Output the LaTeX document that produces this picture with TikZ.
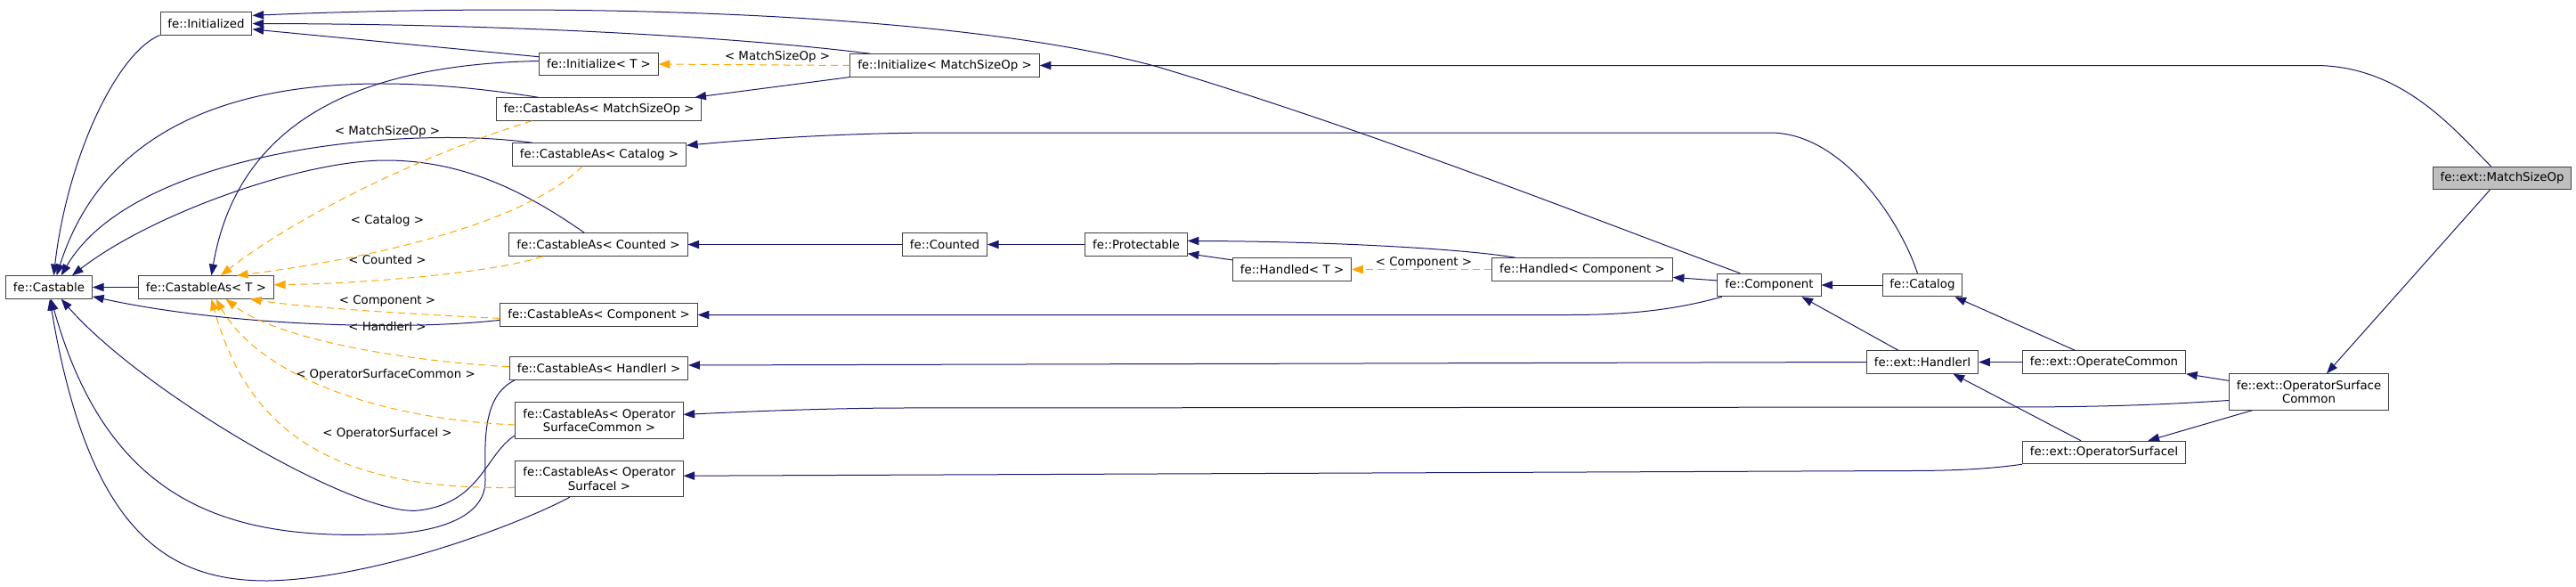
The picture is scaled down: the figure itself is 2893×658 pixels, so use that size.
\documentclass[tikz,border=0pt]{standalone}
\usepackage{fontspec}
\setmainfont{DejaVu Sans}
\usetikzlibrary{arrows.meta, positioning, calc}
\definecolor{edgeblue}{RGB}{25,25,112}
\definecolor{tmplorange}{RGB}{255,165,0}
\definecolor{boxline}{RGB}{64,64,64}
\definecolor{boxfocus}{RGB}{191,191,191}

\begin{document}
\begin{tikzpicture}[
  x=0.75pt, y=-0.75pt,
  cls/.style={
    rectangle, draw=boxline, fill=white, line width=0.75pt,
    minimum height=19.1pt, inner xsep=6.3pt, inner ysep=0pt,
    align=center, font=\fontsize{10}{11.3}\selectfont
  },
  cls2/.style={cls, minimum height=30.2pt},
  focus/.style={cls, fill=boxfocus},
  inh/.style={draw=edgeblue, line width=0.75pt, -{Triangle[length=9.5pt, width=7pt]}},
  tmpl/.style={draw=tmplorange, line width=0.75pt, dash pattern=on 6pt off 4pt,
    -{Triangle[length=9.5pt, width=7pt]}},
  lbl/.style={font=\fontsize{10}{11.3}\selectfont, inner sep=0pt}
]
\useasboundingbox (0,0) rectangle (2893,658);

% ---- Base classes on the left ----
\node[cls] (initd) at (231.5,26.5) {fe::Initialized};
\node[cls] (castable) at (55,322.5) {fe::Castable};
\node[cls] (castT) at (231.5,322.5) {fe::CastableAs< T >};

% ---- Template instances ----
\node[cls] (initT) at (672.5,72) {fe::Initialize< T >};
\node[cls] (cMSO) at (672.5,122.5) {fe::CastableAs< MatchSizeOp >};
\node[cls] (cCat) at (673,173.5) {fe::CastableAs< Catalog >};
\node[cls] (cCnt) at (672,274.5) {fe::CastableAs< Counted >};
\node[cls] (cComp) at (672.5,353.5) {fe::CastableAs< Component >};
\node[cls] (cHI) at (672.5,413.5) {fe::CastableAs< HandlerI >};
\node[cls2] (cOSC) at (673,472) {fe::CastableAs< Operator\\SurfaceCommon >};
\node[cls2] (cOSI) at (673,537.5) {fe::CastableAs< Operator\\SurfaceI >};

% ---- Middle and right ----
\node[cls] (initMSO) at (1061,73.5) {fe::Initialize< MatchSizeOp >};
\node[cls] (cnt) at (1061,274.5) {fe::Counted};
\node[cls] (prot) at (1276,274.5) {fe::Protectable};
\node[cls] (handT) at (1451,302.5) {fe::Handled< T >};
\node[cls] (handC) at (1777,302.5) {fe::Handled< Component >};
\node[cls] (comp) at (1987,320) {fe::Component};
\node[cls] (cat) at (2159,320) {fe::Catalog};
\node[cls] (hi) at (2159,406.5) {fe::ext::HandlerI};
\node[cls] (oc) at (2363,406.5) {fe::ext::OperateCommon};
\node[cls] (osi) at (2363,508) {fe::ext::OperatorSurfaceI};
\node[cls2] (osc) at (2593,440) {fe::ext::OperatorSurface\\Common};
\node[focus] (mso) at (2810,200) {fe::ext::MatchSizeOp};

% ---- Template argument labels ----
\node[lbl] (lIT) at (873,64) {< MatchSizeOp >};
\node[lbl] (lHT) at (1599,295) {< Component >};
\node[lbl] (lMSO) at (435,148) {< MatchSizeOp >};
\node[lbl] (lCat) at (435,248) {< Catalog >};
\node[lbl] (lCnt) at (435,292) {< Counted >};
\node[lbl] (lComp) at (435,338) {< Component >};
\node[lbl] (lHI) at (435,367) {< HandlerI >};
\node[lbl] (lOSC) at (433,421) {< OperatorSurfaceCommon >};
\node[lbl] (lOSI) at (435,487) {< OperatorSurfaceI >};

% ---- Into fe::Initialized ----
\draw[inh] (initT.173) -- (initd.-7);
\draw[inh] (initMSO.171) .. controls (850,44) and (600,27) .. (initd.east);
\draw[inh] (comp.158) .. controls (1800,250) and (1550,150) .. (1300,75)
  .. controls (1100,20) and (700,0) .. (initd.10);

% ---- Into fe::Castable ----
\draw[inh] (initd.194) .. controls (130,60) and (75,180) .. (castable.68);
\draw[inh] (cMSO.169) .. controls (420,80) and (140,70) .. (castable.57);
\draw[inh] (cCat.170) .. controls (450,140) and (150,170) .. (castable.44);
\draw[inh] (cCnt.140) .. controls (590,215) and (520,180) .. (433,180)
  .. controls (340,180) and (170,240) .. (castable.27);
\draw[inh] (cComp.183) .. controls (450,372) and (250,365) .. (castable.-12);
\draw[inh] (cOSC.190) .. controls (545,510) and (540,565) .. (470,573)
  .. controls (400,581) and (160,440) .. (castable.-44);
\draw[inh] (cHI.188) .. controls (540,445) and (545,500) .. (545,540)
  .. controls (545,585) and (480,600) .. (420,600)
  .. controls (250,605) and (120,560) .. (castable.-80);
\draw[inh] (cOSI.-148) .. controls (580,590) and (420,650) .. (300,652)
  .. controls (190,652) and (100,600) .. (castable.-86);

% ---- Into fe::CastableAs< T > (solid and template) ----
\draw[inh] (initT.177) .. controls (430,72) and (270,120) .. (castT.66);
\draw[tmpl] (cMSO.190) .. controls (470,175) and (330,245) .. (castT.39);
\draw[tmpl] (cCat.-145) .. controls (590,250) and (420,290) .. (castT.21);
\draw[tmpl] (cCnt.192) .. controls (560,305) and (420,318) .. (castT.2);
\draw[tmpl] (cComp.182) .. controls (450,352) and (340,345) .. (castT.-15);
\draw[tmpl] (cHI.179) .. controls (450,405) and (310,380) .. (castT.-31);
\draw[tmpl] (cOSC.183) .. controls (420,470) and (290,420) .. (castT.-50);
\draw[tmpl] (cOSI.186) .. controls (380,550) and (280,490) .. (castT.-66);

% ---- Straight horizontal edges ----
\foreach \a/\b in {castT/castable, cnt/cCnt, prot/cnt, cat/comp, oc/hi} {
  \draw[inh] (\a.west) -- (\b.east);
}

% ---- Middle part ----
\draw[tmpl] (initMSO.west) -- (initT.east);
\draw[inh] (initMSO.187) -- (cMSO.7);
\draw[inh] (cat.113) .. controls (2135,250) and (2070,149) .. (1988,149)
  -- (1060,149) .. controls (950,149) and (850,156) .. (cCat.6);
\draw[inh] (handT.171) -- (prot.-10);
\draw[inh] (handC.170) .. controls (1650,280) and (1500,271) .. (prot.4);
\draw[tmpl] (handC.west) -- (handT.east);
\draw[inh] (comp.175) -- (handC.-5);
\draw[inh] (comp.194) .. controls (1880,348) and (1830,353.5) .. (1760,353.5) -- (cComp.east);
\draw[inh] (hi.154) -- (comp.-20);
\draw[inh] (hi.west) -- (cHI.2);
\draw[inh] (oc.158) -- (cat.-20);
\draw[inh] (osi.153) -- (hi.-21);
\draw[inh] (osi.south west) .. controls (2230,527) and (2190,528.5) .. (2140,528.5) -- (cOSI.2);

% ---- Right part ----
\draw[inh] (osc.186) .. controls (2420,455) and (2350,457) .. (2250,457)
  -- (1000,458) .. controls (900,459) and (820,463) .. (cOSC.4);
\draw[inh] (osc.172) -- (oc.south east);
\draw[inh] (osc.198) -- (osi.15);
\draw[inh] (mso.224) -- (osc.46);
\draw[inh] (mso.133) .. controls (2760,150) and (2700,73.5) .. (2600,73.5) -- (initMSO.east);

\end{tikzpicture}
\end{document}
